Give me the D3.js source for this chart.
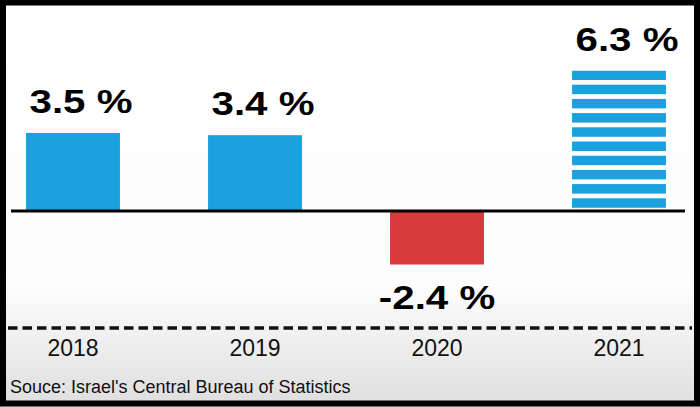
<!DOCTYPE html>
<html>
<head>
<meta charset="utf-8">
<script src="https://cdn.jsdelivr.net/npm/d3@7"></script>
<style>
  html, body { margin: 0; padding: 0; background: #fff; }
</style>
</head>
<body>
<div id="plot"></div>
<script>
// Chart data
const years = ["2018", "2019", "2020", "2021"];
const growth = [3.5, 3.4, -2.4, 6.3];
const kind = ["actual", "actual", "actual", "forecast"];
const source = "Souce: Israel's Central Bureau of Statistics";

const data = years.map((y, i) => ({year: y, value: growth[i], kind: kind[i]}));

const width = 700;
const height = 407;

const svg = d3.select("#plot")
    .append("svg")
    .attr("width", width)
    .attr("height", height)
    .attr("viewBox", [0, 0, width, height])
    .style("display", "block");

const defs = svg.append("defs");

// Background: white fading to light grey at the bottom
const bg = defs.append("linearGradient")
    .attr("id", "bg")
    .attr("x1", 0).attr("y1", 0).attr("x2", 0).attr("y2", 1);
bg.append("stop").attr("offset", "0%").attr("stop-color", "#ffffff");
bg.append("stop").attr("offset", "70%").attr("stop-color", "#fdfdfd");
bg.append("stop").attr("offset", "100%").attr("stop-color", "#dedede");

// Scales
const x = d3.scaleBand()
    .domain(years)
    .range([-18, 710])
    .paddingInner(0.484)
    .paddingOuter(0.242);

const y = d3.scaleLinear()
    .domain([-2.4, 6.3])
    .range([264.5, 70.5]);

// Horizontal stripes for the forecast bar, aligned to the bar top
const stripe = defs.append("pattern")
    .attr("id", "stripes")
    .attr("patternUnits", "userSpaceOnUse")
    .attr("x", 0)
    .attr("y", y(6.3))
    .attr("width", 10)
    .attr("height", 14.2);
stripe.append("rect")
    .attr("width", 10)
    .attr("height", 9.5)
    .attr("fill", "#1ba1de");

svg.append("rect")
    .attr("x", 0).attr("y", 0)
    .attr("width", width).attr("height", height)
    .attr("fill", "url(#bg)");

// Bars
svg.append("g")
    .selectAll("rect")
    .data(data)
    .join("rect")
    .attr("x", d => x(d.year))
    .attr("width", x.bandwidth())
    .attr("y", d => y(Math.max(0, d.value)))
    .attr("height", d => Math.abs(y(d.value) - y(0)))
    .attr("fill", d => d.kind === "forecast" ? "url(#stripes)" : (d.value < 0 ? "#d8393b" : "#1ba1de"));

// Zero line
svg.append("line")
    .attr("x1", 11).attr("x2", 685)
    .attr("y1", y(0)).attr("y2", y(0))
    .attr("stroke", "#000")
    .attr("stroke-width", 3);

// Value labels (wide, heavy type)
svg.append("g")
    .selectAll("text")
    .data(data)
    .join("text")
    .attr("transform", d => {
        const cx = x(d.year) + x.bandwidth() / 2 + (d.value > 0 ? 8 : 0);
        const by = d.value > 0 ? y(d.value) - 20 : y(d.value) + 44;
        return `translate(${cx},${by}) scale(1.22,1)`;
    })
    .attr("text-anchor", "middle")
    .attr("font-family", "Liberation Sans, Arial, sans-serif")
    .attr("font-weight", "bold")
    .attr("font-size", 33)
    .attr("fill", "#000")
    .text(d => `${d.value} %`);

// Dashed separator
svg.append("line")
    .attr("x1", 8).attr("x2", 692)
    .attr("y1", 328).attr("y2", 328)
    .attr("stroke", "#111")
    .attr("stroke-width", 3.5)
    .attr("stroke-dasharray", "9.5,5");

// Year axis (no line, just labels)
const xAxis = svg.append("g")
    .attr("transform", "translate(0,336)")
    .call(d3.axisBottom(x).tickSize(0).tickPadding(0))
    .call(g => g.select(".domain").remove());

xAxis.selectAll("text")
    .attr("dy", "0.85em")
    .attr("font-family", "Liberation Sans, Arial, sans-serif")
    .attr("font-size", 23)
    .attr("fill", "#111");

// Source line
svg.append("text")
    .attr("x", 10)
    .attr("y", 393)
    .attr("font-family", "Liberation Sans, Arial, sans-serif")
    .attr("font-size", 18)
    .attr("fill", "#111")
    .text(source);

// Frame
svg.append("rect")
    .attr("x", 3).attr("y", 2.5)
    .attr("width", width - 6).attr("height", height - 6)
    .attr("fill", "none")
    .attr("stroke", "#000")
    .attr("stroke-width", 6);
</script>
</body>
</html>
